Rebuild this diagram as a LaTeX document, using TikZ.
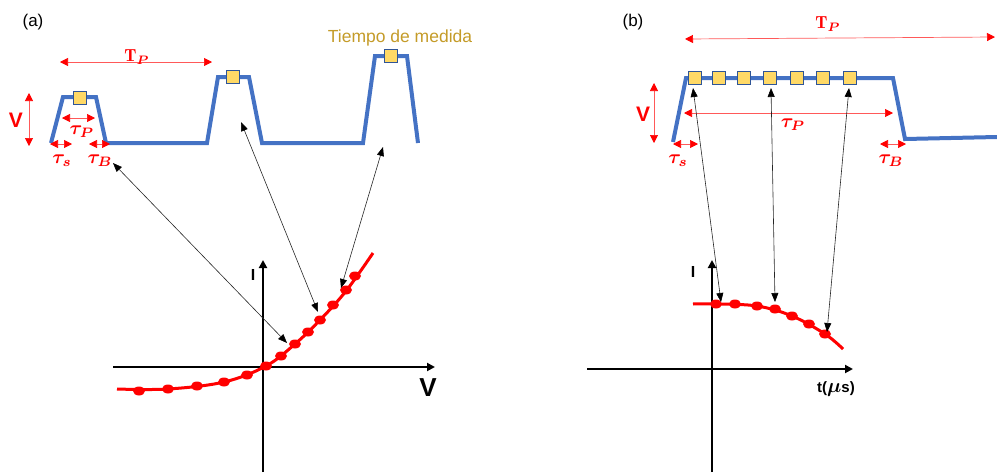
\documentclass[tikz,border=0pt]{standalone}
\usepackage{amsmath,bm}
\usepackage{fontspec}
\newfontfamily\arial{Liberation Sans}
\usetikzlibrary{arrows.meta,shapes.geometric}
\definecolor{wblue}{HTML}{4472C4}
\definecolor{sqfill}{HTML}{FFD966}
\definecolor{sqdraw}{HTML}{2F5597}
\definecolor{goldtxt}{RGB}{196,155,40}
\definecolor{curvered}{RGB}{255,0,0}
\newcommand{\scmath}[2]{\scalebox{#1}{$#2$}}
\begin{document}
\begin{tikzpicture}[x=1pt,y=-1pt,
  wave/.style={wblue,line width=4pt,line join=miter},
  sq/.style={draw=sqdraw,fill=sqfill,line width=1pt,minimum size=13pt,inner sep=0pt},
  dim/.style={draw=red!65,line width=0.7pt,{Triangle[length=8pt,width=8pt,color=red]}-{Triangle[length=8pt,width=8pt,color=red]}},
  link/.style={black!85,line width=0.6pt,{Triangle[length=9pt,width=7pt,color=black]}-{Triangle[length=9pt,width=7pt,color=black]}},
  axis/.style={black,line width=2.2pt,-{Triangle[length=8pt,width=8pt]}},
  dot/.style={ellipse,fill=curvered,minimum width=12pt,minimum height=9pt,inner sep=0pt},
  redlbl/.style={text=red,inner sep=0pt},
  panel/.style={font=\arial\fontsize{17}{17}\selectfont,inner sep=0pt},
  axlbl/.style={font=\arial\bfseries\fontsize{16}{16}\selectfont,inner sep=0pt},
]
\useasboundingbox (0,0) rectangle (997,472);

% ---------- panel (a) ----------
\node[panel] (pa) at (33,22) {(a)};
\node[font=\arial\fontsize{17.5}{17.5}\selectfont,text=goldtxt,inner sep=0pt] (tm) at (400,38) {Tiempo de medida};

\draw[wave] (51,143) -- (63,97) -- (96,97) -- (106,143) -- (207,143) -- (218,77) -- (249,77) -- (262,143) -- (363,143) -- (375,56) -- (407,56) -- (418,143);
\node[sq] (sa1) at (80,98) {};
\node[sq] (sa2) at (233,77) {};
\node[sq] (sa3) at (391,56) {};

\draw[dim] (60,62) -- (212,62);
\node[redlbl] (tpa) at (137,57) {\scmath{1.75}{\mathbf{T}_{\bm{P}}}};
\draw[dim] (29,93) -- (29,146);
\node[redlbl,font=\arial\bfseries\fontsize{21}{21}\selectfont] (va) at (16,120) {V};
\draw[dim] (62,118) -- (95,118);
\node[redlbl] (taupa) at (82,132) {\scmath{1.95}{\bm{\tau_P}}};
\draw[dim] (50,144) -- (72,144);
\node[redlbl] (tausa) at (62,161) {\scmath{1.95}{\bm{\tau_s}}};
\draw[dim] (89,144) -- (110,144);
\node[redlbl] (tauba) at (100,161) {\scmath{1.95}{\bm{\tau_B}}};

\draw[axis] (263,472) -- (263,260);
\draw[axis] (113,367) -- (435,367);
\node[axlbl] (ia) at (253,275) {I};
\node[axlbl,font=\arial\bfseries\fontsize{26}{26}\selectfont] (vax) at (428,388) {V};

\draw[curvered,line width=3pt] plot[smooth,tension=0.6] coordinates {(117,389) (168,389) (224,382) (266,366) (295,344) (320,320) (346,291) (373,253)};
\foreach \p [count=\i] in {(139,391),(168,389),(197,386),(224,382),(247,375),(266,366),(281,356),(295,344),(308,332),(320,320),(333,305),(346,290),(355,276)}
  \node[dot] (da\i) at \p {};

\coordinate (a1t) at (113,163);
\coordinate (a1b) at (287,343);
\coordinate (a2t) at (241,122);
\coordinate (a2b) at (318,312);
\coordinate (a3t) at (383,147);
\coordinate (a3b) at (341,288);
\draw[link] (a1t) -- (a1b);
\draw[link] (a2t) -- (a2b);
\draw[link] (a3t) -- (a3b);

% ---------- panel (b) ----------
\node[panel] (pb) at (633,22) {(b)};
\draw[wave] (673,142) -- (686,78) -- (893,78) -- (905,139) -- (997,137);
\foreach \x [count=\i] in {695,719,744,770,797,823,850}
  \node[sq] (sb\i) at (\x,78) {};

\draw[dim] (685,39) -- (995,37);
\node[redlbl] (tpb) at (828,24) {\scmath{1.75}{\mathbf{T}_{\bm{P}}}};
\draw[dim] (654,83) -- (654,143);
\node[redlbl,font=\arial\bfseries\fontsize{21}{21}\selectfont] (vb) at (643,114) {V};
\draw[dim] (684,113) -- (893,113);
\node[redlbl] (taupb) at (793,125) {\scmath{1.95}{\bm{\tau_P}}};
\draw[dim] (673,144) -- (698,144);
\node[redlbl] (tausb) at (678,161) {\scmath{1.95}{\bm{\tau_s}}};
\draw[dim] (880,144) -- (906,144);
\node[redlbl] (taubb) at (891,161) {\scmath{1.95}{\bm{\tau_B}}};

\draw[axis] (712,472) -- (712,260);
\draw[axis] (587,369) -- (853,369);
\node[axlbl] (ib) at (693,272) {I};
\node[axlbl,font=\arial\bfseries\fontsize{15}{15}\selectfont] (tb) at (836,389) {t(\scmath{1.4}{\bm{\mu}}s)};

\draw[curvered,line width=3pt] plot[smooth,tension=0.6] coordinates {(693,304) (716,304) (757,306) (792,316) (825,334) (843,349)};
\foreach \p [count=\i] in {(716,304),(735,304),(757,306),(775,309),(792,316),(809,324),(825,334)}
  \node[dot] (db\i) at \p {};

\coordinate (b1t) at (693,88);
\coordinate (b1b) at (721,302);
\coordinate (b2t) at (771,88);
\coordinate (b2b) at (775,302);
\coordinate (b3t) at (849,88);
\coordinate (b3b) at (827,332);
\draw[link] (b1t) -- (b1b);
\draw[link] (b2t) -- (b2b);
\draw[link] (b3t) -- (b3b);
\end{tikzpicture}
\end{document}
